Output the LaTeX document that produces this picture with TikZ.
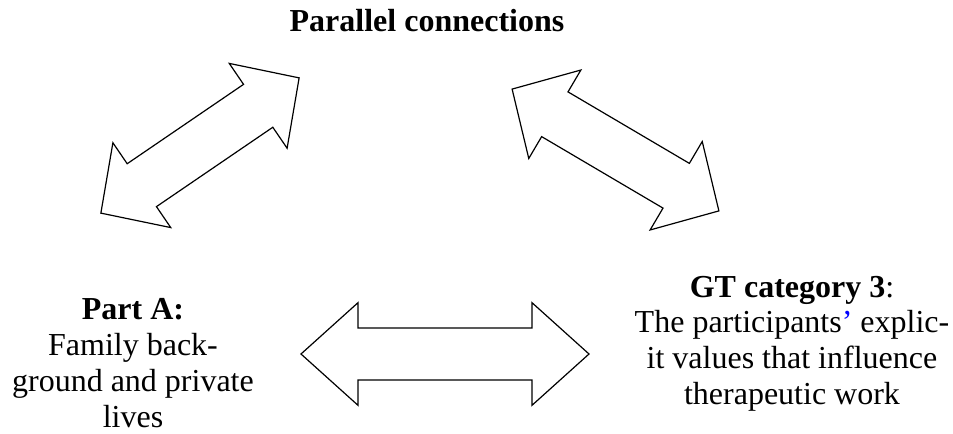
\documentclass[tikz,border=0pt]{standalone}
\usepackage{fontspec}
\setmainfont{Liberation Serif}
\usetikzlibrary{shapes.arrows}

\begin{document}
\begin{tikzpicture}[x=0.75pt,y=-0.75pt]
    \tikzstyle{every node} = [font=\fontsize{24}{27}\selectfont]
    \tikzstyle{link} = [draw, double arrow, line width=0.9pt, inner xsep=0pt, inner ysep=19pt, minimum width=77pt, double arrow head extend=19pt, double arrow tip angle=92]
    \tikzstyle{textblock} = [align=center, anchor=base, inner sep=0pt]
    \useasboundingbox (0,0) rectangle (953,434);
    % place nodes (base is the last line)
    \node[textblock] (title) at (427,32) {\textbf{Parallel connections}};
    \node[textblock] (partA) at (133,427) {\textbf{Part A:}\\Family back-\\ground and private\\lives};
    \node[textblock] (gtCat) at (792,405) {\textbf{GT category 3}:\\The participants{\color{blue}’} explic-\\it values that influence\\therapeutic work};
    % Connections
    \node[link, minimum height=180pt, rotate=34.3] (linkLeft) at (200,145.5) {};
    \node[link, minimum height=180pt, rotate=-30.5] (linkRight) at (615.5,150) {};
    \node[link, minimum height=216pt, double arrow tip angle=84] (linkBottom) at (445,354) {};
\end{tikzpicture}
\end{document}
